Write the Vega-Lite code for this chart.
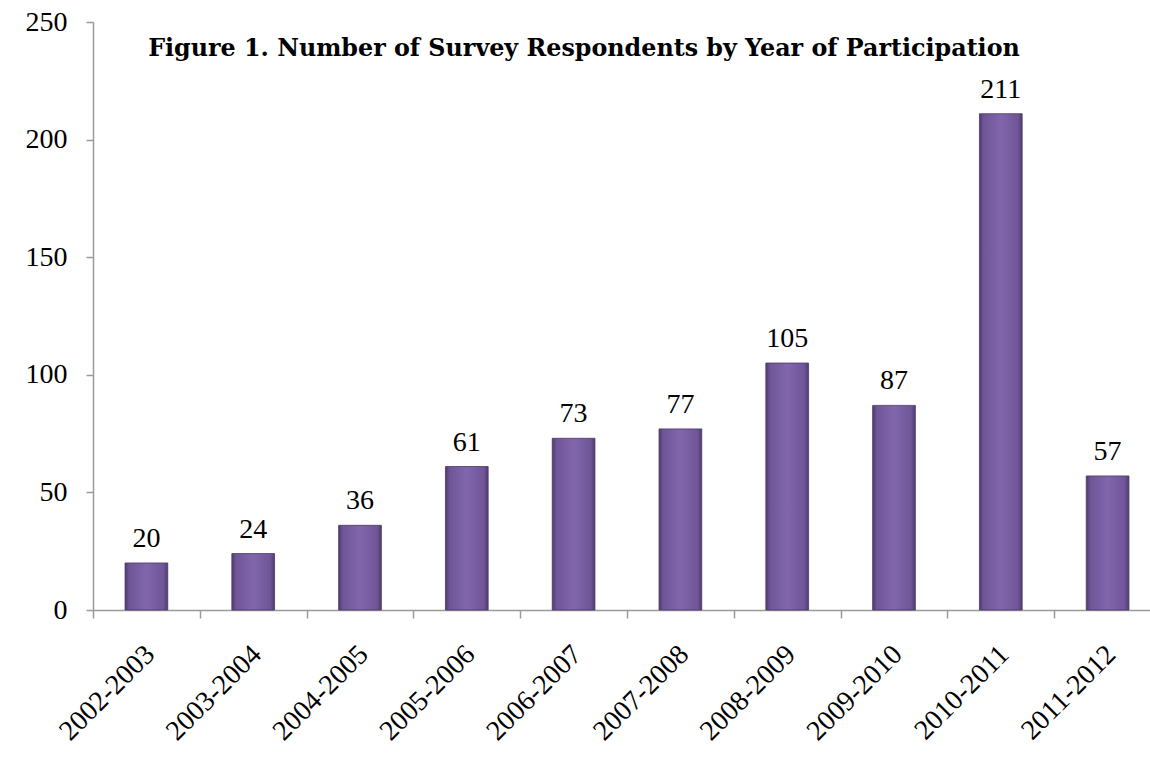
{
  "$schema": "https://vega.github.io/schema/vega-lite/v6.json",
  "autosize": "none",
  "width": 1068,
  "height": 588,
  "padding": {"left": 93, "top": 22, "right": 0, "bottom": 149},
  "background": "white",
  "config": {
    "view": {"stroke": null},
    "font": "Liberation Serif"
  },
  "title": {
    "text": "Figure 1. Number of Survey Respondents by Year of Participation",
    "font": "DejaVu Serif",
    "fontSize": 23.8,
    "fontWeight": "bold",
    "color": "#000000",
    "anchor": "middle",
    "dx": -43,
    "offset": -53
  },
  "data": {
    "values": [
      {"year": "2002-2003", "count": 20},
      {"year": "2003-2004", "count": 24},
      {"year": "2004-2005", "count": 36},
      {"year": "2005-2006", "count": 61},
      {"year": "2006-2007", "count": 73},
      {"year": "2007-2008", "count": 77},
      {"year": "2008-2009", "count": 105},
      {"year": "2009-2010", "count": 87},
      {"year": "2010-2011", "count": 211},
      {"year": "2011-2012", "count": 57}
    ]
  },
  "encoding": {
    "x": {
      "field": "year",
      "type": "nominal",
      "sort": null,
      "scale": {"paddingInner": 0.6, "paddingOuter": 0.3},
      "axis": {
        "title": null,
        "labelAngle": -45,
        "labelFont": "Liberation Serif",
        "labelFontSize": 28,
        "labelColor": "#000000",
        "labelPadding": 22,
        "tickOffset": -53.4,
        "labelOffset": 47,
        "domainColor": "#9a9a9a",
        "domainWidth": 1.5,
        "tickColor": "#9a9a9a",
        "tickWidth": 1.5,
        "tickSize": 8
      }
    },
    "y": {
      "field": "count",
      "type": "quantitative",
      "scale": {"domain": [0, 250], "nice": false},
      "axis": {
        "title": null,
        "values": [0, 50, 100, 150, 200, 250],
        "grid": false,
        "domainColor": "#9a9a9a",
        "domainWidth": 1.5,
        "tickColor": "#9a9a9a",
        "tickWidth": 1.5,
        "tickSize": 7,
        "labelPadding": 19,
        "labelFont": "Liberation Serif",
        "labelFontSize": 28,
        "labelColor": "#000000"
      }
    }
  },
  "layer": [
    {
      "mark": {
        "type": "bar",
        "stroke": "#4a3a66",
        "strokeWidth": 0.8,
        "color": {
          "gradient": "linear",
          "x1": 0, "y1": 0, "x2": 1, "y2": 0,
          "stops": [
            {"offset": 0, "color": "#4e3b72"},
            {"offset": 0.1, "color": "#6f5697"},
            {"offset": 0.5, "color": "#8166ac"},
            {"offset": 0.9, "color": "#6f5697"},
            {"offset": 1, "color": "#4e3b72"}
          ]
        }
      }
    },
    {
      "mark": {
        "type": "text",
        "baseline": "alphabetic",
        "dy": -16,
        "font": "Liberation Serif",
        "fontSize": 28,
        "color": "#000000"
      },
      "encoding": {
        "text": {"field": "count", "type": "quantitative"}
      }
    }
  ]
}
